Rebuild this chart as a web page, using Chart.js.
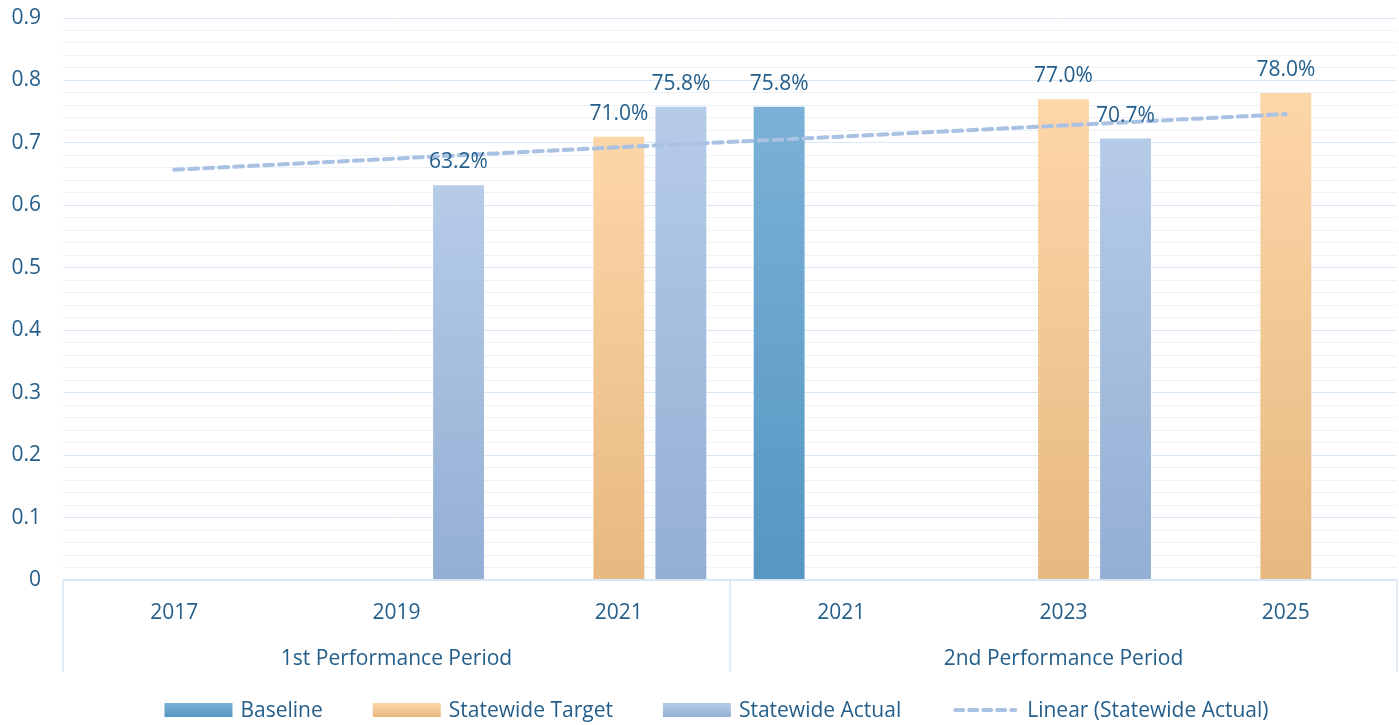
<!DOCTYPE html>
<html>
<head>
<meta charset="utf-8">
<title>Statewide Performance</title>
<script src="https://cdn.jsdelivr.net/npm/chart.js@4.4.0/dist/chart.umd.min.js"></script>
<style>
    html, body { margin: 0; padding: 0; background: #fff; }
    #wrap { position: relative; width: 1399px; height: 725px; }
</style>
</head>
<body>
<div id="wrap"><canvas id="perfChart"></canvas></div>
<script>
// categories
const years = ['2017', '2019', '2021', '2021', '2023', '2025'];
const periods = ['1st Performance Period', '2nd Performance Period'];
const periodSizes = [3, 3];

// series values (fractions)
const baseline = [null, null, null, 0.758, null, null];
const target = [null, null, 0.710, null, 0.770, 0.780];
const actual = [null, 0.632, 0.758, null, 0.707, null];
const trend = [0.657, 0.675, 0.693, 0.710, 0.728, 0.746];

// y axis
const yMin = 0;
const yMax = 0.9;
const yMinorStep = 0.02;

const textColor = '#245e8b';
const gridMajor = '#d7e7f5';
const gridMinor = '#ebf2fa';
const fontFamily = '"Open Sans", "Noto Sans", sans-serif';
const fontSize = 21;

const colors = {
    baseline: ['#7bb1d6', '#5596c3'],
    target: ['#fdd6a9', '#e7b980'],
    actual: ['#b6cbe8', '#93afd4'],
    trend: '#a9c1e3'
};

function isMajor(v) {
    return Math.abs(v * 10 - Math.round(v * 10)) < 1e-6;
}

// vertical gradient for each bar, from its top to the zero line
function barFill(pair) {
    return function(ctx) {
        const chart = ctx.chart;
        const v = ctx.raw;
        if (!chart.chartArea || v == null || ctx.type !== 'data') return pair[0];
        const y = chart.scales.y;
        const g = chart.ctx.createLinearGradient(0, y.getPixelForValue(v), 0, y.getPixelForValue(0));
        g.addColorStop(0, pair[0]);
        g.addColorStop(1, pair[1]);
        return g;
    };
}

// percentage labels above the bars
const valueLabels = {
    id: 'valueLabels',
    afterDatasetsDraw(chart) {
        const c = chart.ctx;
        c.save();
        c.font = fontSize + 'px ' + fontFamily;
        c.fillStyle = textColor;
        c.textAlign = 'center';
        c.textBaseline = 'alphabetic';
        chart.data.datasets.forEach((ds, i) => {
            if (ds.type === 'line') return;
            chart.getDatasetMeta(i).data.forEach((bar, j) => {
                const v = ds.data[j];
                if (v == null) return;
                c.fillText((v * 100).toFixed(1) + '%', bar.x, bar.y - 17);
            });
        });
        c.restore();
    }
};

// box lines around the two period groups under the axis
const periodDividers = {
    id: 'periodDividers',
    afterDraw(chart) {
        const x = chart.scales.x;
        const x2 = chart.scales.x2;
        const c = chart.ctx;
        const edges = [x.left];
        let idx = 0;
        periodSizes.forEach((n, k) => {
            idx += n;
            if (k < periodSizes.length - 1) {
                edges.push((x.getPixelForValue(idx - 1) + x.getPixelForValue(idx)) / 2);
            }
        });
        edges.push(x.right);
        c.save();
        c.strokeStyle = gridMajor;
        c.lineWidth = 1.5;
        edges.forEach(px => {
            c.beginPath();
            c.moveTo(px, x.top);
            c.lineTo(px, x2.bottom);
            c.stroke();
        });
        c.restore();
    }
};

// legend row at the bottom
const legendItems = [
    { label: 'Baseline', fill: colors.baseline },
    { label: 'Statewide Target', fill: colors.target },
    { label: 'Statewide Actual', fill: colors.actual },
    { label: 'Linear (Statewide Actual)', line: colors.trend }
];

const bottomLegend = {
    id: 'bottomLegend',
    afterDraw(chart) {
        const c = chart.ctx;
        const boxW = 68, boxH = 14, gap = 8, spacing = 50;
        c.save();
        c.font = fontSize + 'px ' + fontFamily;
        const widths = legendItems.map(it => c.measureText(it.label).width);
        const total = widths.reduce((s, w) => s + boxW + gap + w, 0) + spacing * (legendItems.length - 1);
        let x = chart.width / 2 + 17 - total / 2;
        const boxTop = 703;
        legendItems.forEach((it, i) => {
            if (it.fill) {
                const g = c.createLinearGradient(0, boxTop, 0, boxTop + boxH);
                g.addColorStop(0, it.fill[0]);
                g.addColorStop(1, it.fill[1]);
                c.fillStyle = g;
                c.fillRect(x, boxTop, boxW, boxH);
            } else {
                c.strokeStyle = it.line;
                c.lineWidth = 4;
                c.lineCap = 'round';
                c.setLineDash([8, 6]);
                c.beginPath();
                c.moveTo(x + 4, boxTop + boxH / 2);
                c.lineTo(x + boxW - 4, boxTop + boxH / 2);
                c.stroke();
                c.setLineDash([]);
            }
            c.fillStyle = textColor;
            c.textAlign = 'left';
            c.textBaseline = 'alphabetic';
            c.fillText(it.label, x + boxW + gap, boxTop + 14);
            x += boxW + gap + widths[i] + spacing;
        });
        c.restore();
    }
};

const ctx = document.getElementById('perfChart').getContext('2d');
new Chart(ctx, {
    type: 'bar',
    data: {
        labels: years,
        datasets: [
            {
                type: 'line',
                label: 'Linear (Statewide Actual)',
                data: trend,
                borderColor: colors.trend,
                borderWidth: 4,
                borderDash: [9, 6],
                borderCapStyle: 'round',
                pointRadius: 0,
                fill: false,
                tension: 0,
                order: 0
            },
            {
                label: 'Baseline',
                data: baseline,
                backgroundColor: barFill(colors.baseline),
                borderWidth: 0,
                order: 1
            },
            {
                label: 'Statewide Target',
                data: target,
                backgroundColor: barFill(colors.target),
                borderWidth: 0,
                order: 1
            },
            {
                label: 'Statewide Actual',
                data: actual,
                backgroundColor: barFill(colors.actual),
                borderWidth: 0,
                order: 1
            }
        ]
    },
    options: {
        responsive: true,
        maintainAspectRatio: false,
        animation: false,
        categoryPercentage: 0.837,
        barPercentage: 0.82,
        layout: {
            padding: { top: 18, right: 2, bottom: 53, left: 0 }
        },
        plugins: {
            legend: { display: false },
            tooltip: { enabled: false }
        },
        scales: {
            y: {
                min: yMin,
                max: yMax,
                border: { display: false },
                grid: {
                    drawTicks: true,
                    tickLength: 22,
                    tickColor: 'rgba(0,0,0,0)',
                    color: c => isMajor(c.tick.value) ? gridMajor : gridMinor,
                    lineWidth: c => c.tick.value === 0 ? 2 : 1
                },
                ticks: {
                    stepSize: yMinorStep,
                    autoSkip: false,
                    maxTicksLimit: 100,
                    padding: 0,
                    color: textColor,
                    font: { family: fontFamily, size: fontSize },
                    callback: v => isMajor(v) ? String(Math.round(v * 10) / 10) : ''
                },
                afterFit: scale => { scale.width = 63; }
            },
            x: {
                grid: { display: false, drawTicks: false },
                border: { display: false },
                ticks: {
                    padding: 20,
                    maxRotation: 0,
                    color: textColor,
                    font: { family: fontFamily, size: fontSize }
                },
                afterFit: scale => { scale.height = 44; }
            },
            x2: {
                type: 'category',
                labels: periods,
                position: 'bottom',
                offset: true,
                weight: 1,
                grid: { display: false, drawTicks: false },
                border: { display: false },
                ticks: {
                    padding: 22,
                    maxRotation: 0,
                    color: textColor,
                    font: { family: fontFamily, size: fontSize }
                },
                afterFit: scale => { scale.height = 48; }
            }
        }
    },
    plugins: [valueLabels, periodDividers, bottomLegend]
});
</script>
</body>
</html>
